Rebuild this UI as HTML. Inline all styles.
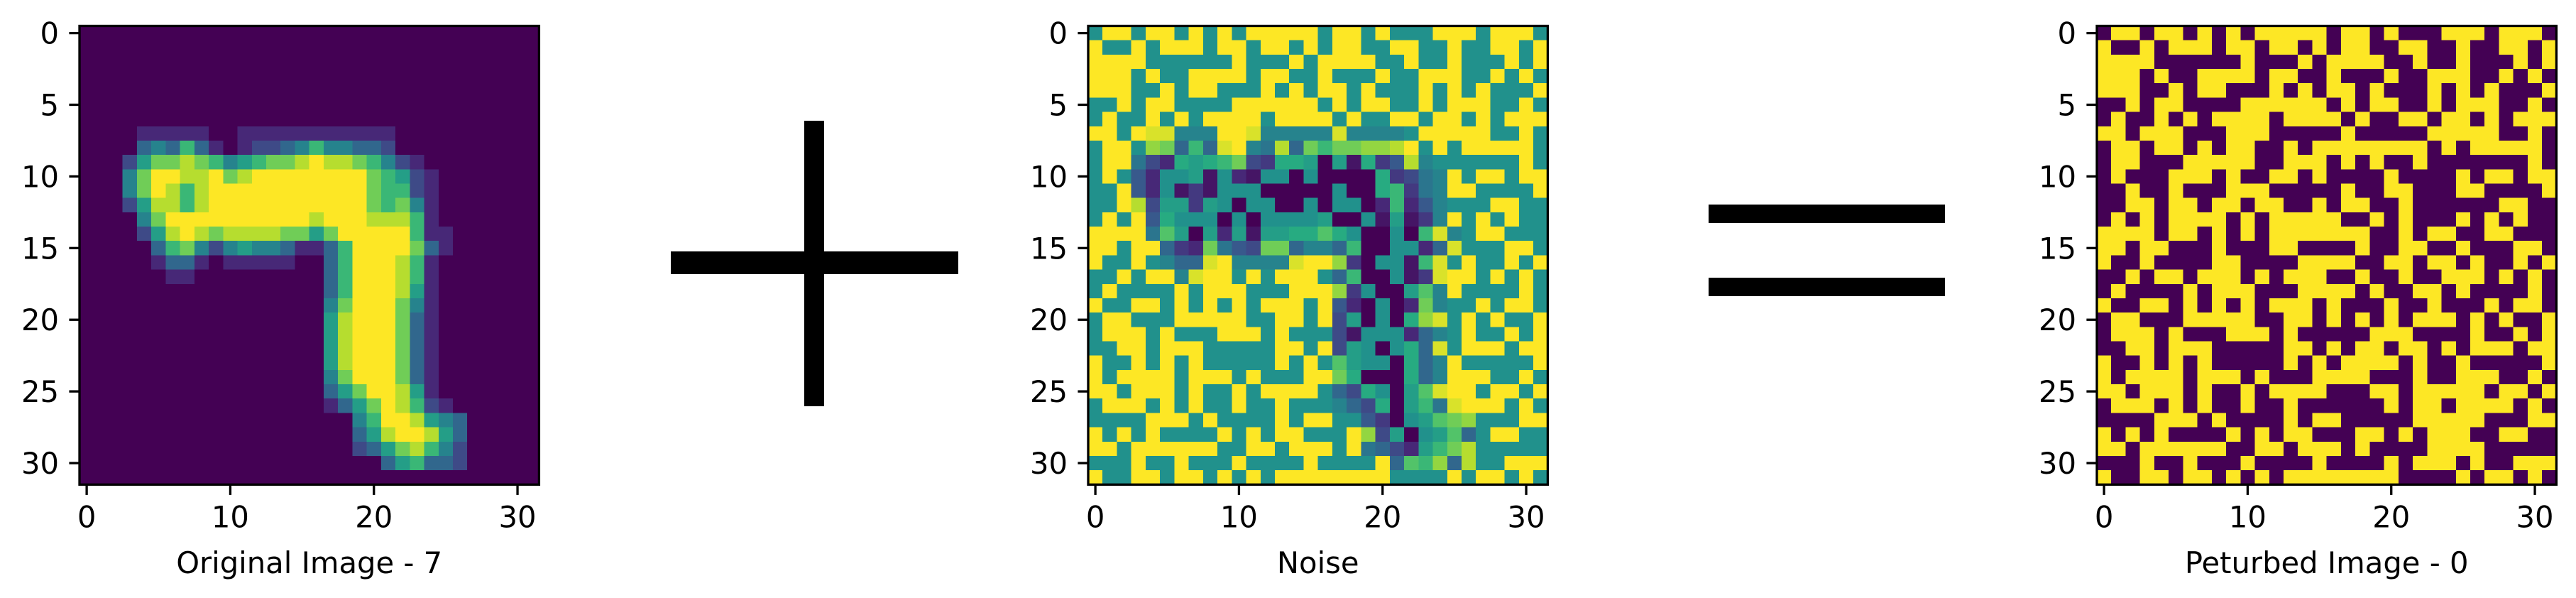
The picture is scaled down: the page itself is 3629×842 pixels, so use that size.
<!DOCTYPE html>
<html><head><meta charset="utf-8"><title>Adversarial perturbation</title>
<style>html,body{margin:0;padding:0;background:#fff;}svg{display:block;}
text{font-family:"DejaVu Sans","Liberation Sans",sans-serif;fill:#000;}</style></head>
<body>
<svg id="fig" xmlns="http://www.w3.org/2000/svg" width="3629" height="842" viewBox="0 0 3629 842">
<rect width="3629" height="842" fill="#fff"/>
<g id="panels"></g>
<g>
<rect x="945" y="354" width="405" height="32" fill="#000"/>
<rect x="1133" y="170" width="28" height="402" fill="#000"/>
</g>
<g>
<rect x="2407" y="288" width="333" height="26" fill="#000"/>
<rect x="2407" y="391" width="333" height="26" fill="#000"/>
</g>
</svg>
<script>
// Original digit intensity, levels 0-9 (row: {col: level})
const digitRows = {
7:{4:1,5:1,6:1,7:1,8:1,9:0,10:0,11:1,12:1,13:1,14:1,15:1,16:1,17:1,18:1,19:1,20:1,21:1},
8:{4:3,5:4,6:3,7:6,8:3,9:1,10:0,11:1,12:2,13:2,14:3,15:4,16:6,17:4,18:4,19:3,20:3,21:2},
9:{3:2,4:5,5:7,6:7,7:8,8:7,9:6,10:4,11:5,12:6,13:7,14:7,15:8,16:9,17:8,18:8,19:7,20:6,21:4,22:2,23:1},
10:{3:4,4:7,5:9,6:9,7:8,8:8,9:9,10:7,11:8,12:9,13:9,14:9,15:9,16:9,17:9,18:9,19:9,20:7,21:6,22:5,23:2,24:1},
11:{3:4,4:7,5:9,6:8,7:6,8:8,9:9,10:9,11:9,12:9,13:9,14:9,15:9,16:9,17:9,18:9,19:9,20:7,21:6,22:6,23:2,24:1},
12:{3:2,4:5,5:8,6:8,7:6,8:8,9:9,10:9,11:9,12:9,13:9,14:9,15:9,16:9,17:9,18:9,19:9,20:7,21:6,22:7,23:4,24:1},
13:{4:4,5:7,6:9,7:9,8:9,9:9,10:9,11:9,12:9,13:9,14:9,15:9,16:8,17:9,18:9,19:9,20:8,21:8,22:8,23:6,24:1},
14:{4:2,5:5,6:8,7:9,8:8,9:7,10:8,11:8,12:8,13:8,14:7,15:7,16:5,17:7,18:9,19:9,20:9,21:9,22:9,23:6,24:1,25:1},
15:{5:3,6:6,7:7,8:4,9:2,10:4,11:5,12:4,13:4,14:3,15:1,16:1,17:3,18:6,19:9,20:9,21:9,22:9,23:7,24:3,25:1},
16:{5:1,6:3,7:3,8:1,10:1,11:1,12:1,13:1,14:1,17:3,18:6,19:9,20:9,21:9,22:8,23:6,24:1},
17:{6:1,7:1,17:3,18:6,19:9,20:9,21:9,22:8,23:6,24:1},
18:{17:3,18:6,19:9,20:9,21:9,22:8,23:5,24:1},
19:{17:4,18:7,19:9,20:9,21:9,22:7,23:4,24:1},
20:{17:5,18:8,19:9,20:9,21:9,22:7,23:3,24:1},
21:{17:5,18:8,19:9,20:9,21:9,22:7,23:3,24:1},
22:{17:5,18:8,19:9,20:9,21:9,22:7,23:3,24:1},
23:{17:5,18:8,19:9,20:9,21:9,22:7,23:3,24:1},
24:{17:4,18:7,19:9,20:9,21:9,22:7,23:3,24:1},
25:{17:3,18:5,19:7,20:9,21:9,22:8,23:5,24:1},
26:{17:1,18:3,19:5,20:7,21:9,22:8,23:6,24:2,25:1},
27:{19:4,20:6,21:9,22:9,23:8,24:5,25:4,26:3},
28:{19:3,20:5,21:8,22:9,23:9,24:8,25:5,26:3},
29:{19:2,20:3,21:5,22:7,23:8,24:6,25:4,26:2},
30:{21:3,22:5,23:6,24:3,25:3,26:2}
};
// Perturbed (binarised) image, 1 = yellow, 0 = purple
const perturbedRows = [
"01101101010111110110100011101110",
"10010111011011010110011001001101",
"11110000001000101111001001000101",
"11101001111011001000100111001010",
"11100101100010101101000101010001",
"00101100001111110101100101110010",
"01001010111101111010011011010111",
"11011100011100000100000111110010",
"01101101011001011111111010111110",
"01100011111001110101001000000010",
"01000111010011010000100001011011",
"00100100011100000100110001100001",
"00110110110110010110010000001100",
"01010111101011111001010001010100",
"11110110101011111110010110011000",
"11011000100011000010011001000110",
"10010000110000111100110110100101",
"00101101110101110010010011101010",
"01000010111000111101001101000010",
"10011010101011101000100100010110",
"01100011111001101010101110101001",
"01110100011101000001110000100101",
"00110111000001101011011010111011",
"10010101000001010111101001000001",
"10111101110100011110001001110010",
"11011101001011110001101111101101",
"01110101001001000000101101111010",
"00001110100001011000001111100011",
"10101000010101100011010111001100",
"11011111100110111010000111100000",
"00010010001000010000101110100111",
"10011011010101111111100001011010"
];

const xTicks = [0,10,20,30];
const yTicks = [0,5,10,15,20,25,30];
const panelLabels = ["Original Image - 7","Noise","Peturbed Image - 0"];

const NS="http://www.w3.org/2000/svg";
const stops=["#440154","#472d7b","#3b528b","#2c728e","#21918c","#28ae80","#5ec962","#addc30","#fde725"];
function hex(h){return [1,3,5].map(i=>parseInt(h.substr(i,2),16));}
function viridis(v){v=Math.max(0,Math.min(1,v));const p=v*8,i=Math.min(7,Math.floor(p)),t=p-i;
 const a=hex(stops[i]),b=hex(stops[i+1]);return "rgb("+a.map((x,k)=>Math.round(x+(b[k]-x)*t)).join(",")+")";}
function digit(r,c){const row=digitRows[r];return row&&row[c]!==undefined?row[c]/9:0;}
function pert(r,c){const s=perturbedRows[r];return s&&s[c]==="1"?1:0;}
// noise layer: perturbed pattern (teal/yellow) darkened where the digit is
function noise(r,c){return 0.5+0.5*pert(r,c)-0.5*digit(r,c);}

const lefts=[112,1533,2954], topY=36.5, W=647.4, H=645.8;
const getters=[digit,noise,pert];
const root=document.getElementById('panels');
function el(t,a,p){const e=document.createElementNS(NS,t);for(const k in a)e.setAttribute(k,a[k]);p.appendChild(e);return e;}
for(let p=0;p<3;p++){
 const L=lefts[p];
 const xs=v=>L+(v+0.5)*W/32, ys=v=>topY+(v+0.5)*H/32;
 const g=el('g',{},root);
 
 
 const img=el('g',{'shape-rendering':'crispEdges'},g);
 
 
 for(let r=0;r<32;r++)for(let c=0;c<32;c++){
  const x0=xs(c-0.5),x1=xs(c+0.5),y0=ys(r-0.5),y1=ys(r+0.5);
  const cell=el('rect',{x:x0.toFixed(2),y:y0.toFixed(2),width:(x1-x0+0.6).toFixed(2),height:(y1-y0+0.6).toFixed(2),fill:viridis(getters[p](r,c))},img);
  
  
 }
 const fr=el('rect',{x:L,y:topY,width:W,height:H,fill:'none',stroke:'#000','stroke-width':3.3},g);
 
 
 xTicks.forEach(t=>{const x=xs(t);
  el('line',{x1:x,x2:x,y1:topY+H,y2:topY+H+14.6,stroke:'#000','stroke-width':3.3},g);
  const tx=el('text',{x:x,y:topY+H+60,'font-size':41.7,'text-anchor':'middle'},g);tx.textContent=t;
  
  });
 yTicks.forEach(t=>{const y=ys(t);
  el('line',{x1:L-14.6,x2:L,y1:y,y2:y,stroke:'#000','stroke-width':3.3},g);
  const ty=el('text',{x:L-29,y:y+15,'font-size':41.7,'text-anchor':'end'},g);ty.textContent=t;
  
  });
 const lb=el('text',{x:L+W/2,y:807,'font-size':41.7,'text-anchor':'middle'},g);lb.textContent=panelLabels[p];
 
 
}
</script>
</body></html>
